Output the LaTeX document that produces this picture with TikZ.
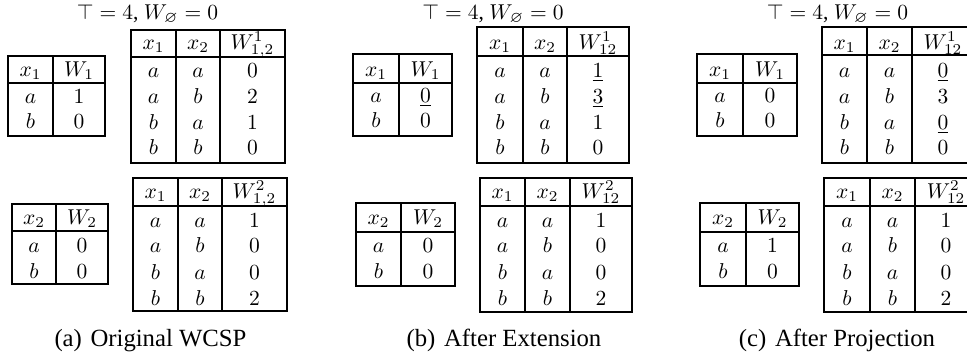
\documentclass[tikz,border=0pt]{standalone}
\usepackage{amssymb}
\usepackage{fontspec}
\setmainfont{Liberation Serif}
\tikzset{
  tbl/.style={line width=1pt},
  cell/.style={anchor=base, inner sep=0pt},
  toplbl/.style={anchor=base, inner sep=0pt},
  captxt/.style={anchor=base, inner sep=0pt, font=\fontsize{11.5}{13}\selectfont}
}
\newcommand\frmtwo[6]{%
  \draw[tbl] (#1,#4) rectangle (#3,#6);
  \draw[tbl] (#1,#5) -- (#3,#5);
  \draw[tbl] (#2,#4) -- (#2,#6);}
\newcommand\frmthree[7]{%
  \draw[tbl] (#1,#5) rectangle (#4,#7);
  \draw[tbl] (#1,#6) -- (#4,#6);
  \draw[tbl] (#2,#5) -- (#2,#7);
  \draw[tbl] (#3,#5) -- (#3,#7);}
% two-column table: prefix, c1, c2, header y, header1, header2, body list v/w/y
\newcommand\celltwo[7]{%
  \node[cell] (#1-h-1) at (#2,#4) {$#5$};
  \node[cell] (#1-h-2) at (#3,#4) {$#6$};
  \foreach \v/\w/\y [count=\i] in {#7} {
    \node[cell] (#1-\i-1) at (#2,\y) {$\v$};
    \node[cell] (#1-\i-2) at (#3,\y) {$\w$};
  }}
% three-column table: prefix, c1, c2, c3, header y, header3, body list p/q/w/y
\newcommand\cellthree[7]{%
  \node[cell] (#1-h-1) at (#2,#5) {$x_1$};
  \node[cell] (#1-h-2) at (#3,#5) {$x_2$};
  \node[cell] (#1-h-3) at (#4,#5) {$#6$};
  \foreach \p/\q/\w/\y [count=\i] in {#7} {
    \node[cell] (#1-\i-1) at (#2,\y) {$\p$};
    \node[cell] (#1-\i-2) at (#3,\y) {$\q$};
    \node[cell] (#1-\i-3) at (#4,\y) {$\w$};
  }}
\newcommand\toptext{$\top=4$, $W_{\varnothing}=0$}
\begin{document}
\begin{tikzpicture}[x=0.465pt, y=-0.465pt]
\useasboundingbox (0,0) rectangle (967,359);
\clip (0,0) rectangle (967,359);

% ---------------- panel (a) ----------------
\node[toplbl] (alabel) at (147.5,19) {\toptext};
\frmtwo{8}{53}{105}{56}{83}{136}
\celltwo{a1}{30.5}{79}{76}{x_1}{W_1}{a/1/103, b/0/128}
\frmthree{131}{176}{220}{285}{30}{57}{163}
\cellthree{a2}{153.5}{198}{252.5}{49.5}{W^1_{1,2}}{a/a/0/77, a/b/2/103, b/a/1/129, b/b/0/154}
\frmtwo{12}{56}{108}{204}{231}{284}
\celltwo{a3}{34}{82}{224.5}{x_2}{W_2}{a/0/252, b/0/278}
\frmthree{133}{178}{222}{287}{178}{206}{311}
\cellthree{a4}{155.5}{200}{254.5}{198.5}{W^2_{1,2}}{a/a/1/227, a/b/0/252.5, b/a/0/279, b/b/2/305}
\node[captxt] (acap) at (150.5,346) {(a)\hskip 4pt Original WCSP};

% ---------------- panel (b) ----------------
\node[toplbl] (blabel) at (493,19) {\toptext};
\frmtwo{353}{399}{452}{54}{83}{136}
\celltwo{b1}{376}{425.5}{76}{x_1}{W_1}{a/\underline{0}/102, b/0/127}
\frmthree{477}{523}{567}{629}{27}{56}{163}
\cellthree{b2}{500}{545}{598}{49}{W^1_{12}}{a/a/\underline{1}/77, a/b/\underline{3}/103, b/a/1/129, b/b/0/154}
\frmtwo{356}{401}{455}{203}{232}{286}
\celltwo{b3}{378.5}{428}{224.5}{x_2}{W_2}{a/0/252, b/0/278}
\frmthree{480}{525}{570}{632}{178}{206}{312}
\cellthree{b4}{502.5}{547.5}{601}{198.5}{W^2_{12}}{a/a/1/227, a/b/0/252.5, b/a/0/279, b/b/2/305}
\node[captxt] (bcap) at (504,346) {(b)\hskip 4pt After Extension};

% ---------------- panel (c) ----------------
\node[toplbl] (clabel) at (837.5,19) {\toptext};
\frmtwo{697}{743}{797}{54}{83}{136}
\celltwo{c1}{720}{770}{76}{x_1}{W_1}{a/0/102, b/0/127}
\frmthree{822}{867}{912}{974}{27}{55}{163}
\cellthree{c2}{844.5}{889.5}{943}{49}{W^1_{12}}{a/a/\underline{0}/77, a/b/3/103, b/a/\underline{0}/129, b/b/0/154}
\frmtwo{700}{746}{799}{203}{232}{286}
\celltwo{c3}{723}{772.5}{224.5}{x_2}{W_2}{a/1/252, b/0/278}
\frmthree{824}{870}{915}{977}{178}{206}{312}
\cellthree{c4}{847}{892.5}{946}{198.5}{W^2_{12}}{a/a/1/227, a/b/0/252.5, b/a/0/279, b/b/2/305}
\node[captxt] (ccap) at (837,346) {(c)\hskip 4pt After Projection};
\end{tikzpicture}
\end{document}
